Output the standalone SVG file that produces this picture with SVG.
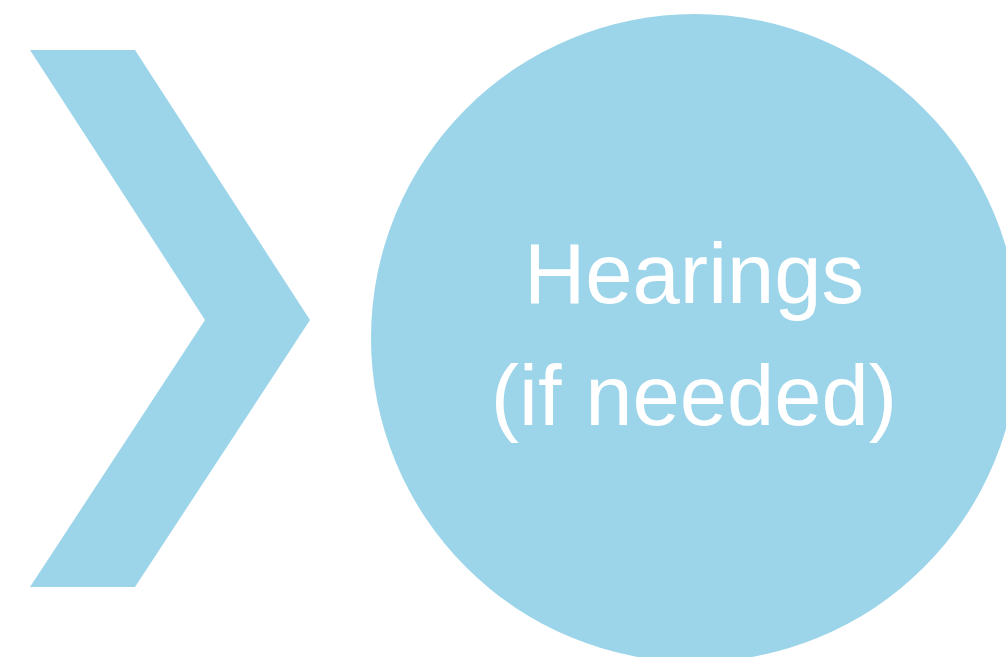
<svg xmlns="http://www.w3.org/2000/svg" width="1006" height="657" viewBox="0 0 1006 657">
<style>
.shape{fill:#9CD5EA;}
.lbl{fill:#ffffff;font-family:"Liberation Sans",Arial,sans-serif;font-size:85px;text-anchor:middle;}
</style>
<rect width="1006" height="657" fill="#ffffff"/>
<g id="chevron">
<polygon class="shape" points="30,50 135,50 310,320 135,587 30,587 205,320"/>
</g>
<g id="hearings">
<circle class="shape" cx="695" cy="338" r="324"/>
<text class="lbl" x="694" y="303">Hearings</text>
<text class="lbl" x="694" y="425">(if needed)</text>
</g>
<g id="connectors"/>
</svg>
